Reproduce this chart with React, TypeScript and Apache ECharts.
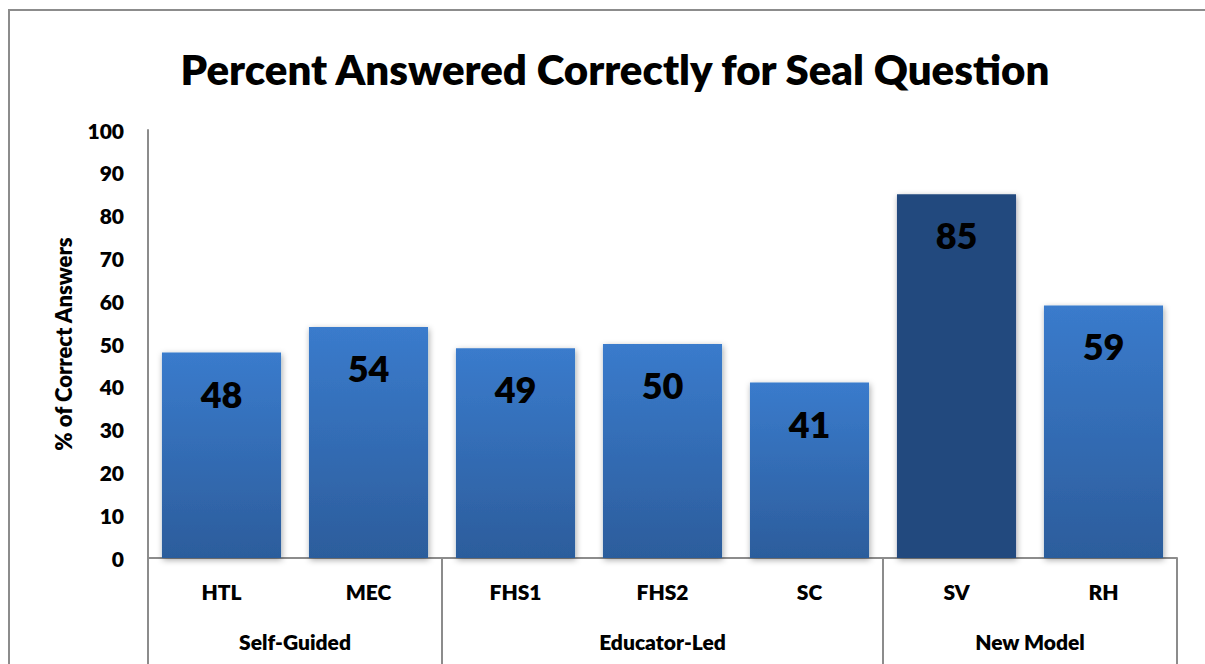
import React, { useEffect, useRef } from "react";
import * as echarts from "echarts";

const categories = ["HTL", "MEC", "FHS1", "FHS2", "SC", "SV", "RH"];
const values = [48, 54, 49, 50, 41, 85, 59];
const groupNames = ["Self-Guided", "Educator-Led", "New Model"];
const groupSizes = [2, 3, 2];
const highlightIndex = 5;
const yTicks = { min: 0, max: 100, interval: 10 };

const FONT = "Lato, 'Open Sans', sans-serif";
const W = 800;

export default function App() {
  const ref = useRef<HTMLDivElement>(null);
  useEffect(() => {
    document.body.style.margin = "0";
    const chart = echarts.init(ref.current!, null, { renderer: "svg" });
    const normal = new echarts.graphic.LinearGradient(0, 0, 0, 1, [
      { offset: 0, color: "#3A7BCC" },
      { offset: 1, color: "#2C5D9C" },
    ]);
    const option: any = {
      animation: false,
      backgroundColor: "#ffffff",
      title: {
        text: "Percent Answered Correctly for Seal Question",
        left: 610,
        textAlign: "center",
        top: 43,
        textStyle: { fontFamily: FONT, fontSize: 42, fontWeight: W, color: "#000" },
      },
      grid: { left: 148, right: 28, top: 130, bottom: 106, containLabel: false },
      xAxis: {
        type: "category",
        data: categories,
        axisLine: { show: true, lineStyle: { color: "#8c8c8c", width: 2 } },
        axisTick: { show: false },
        axisLabel: {
          fontFamily: FONT,
          fontSize: 21,
          fontWeight: W,
          color: "#000",
          margin: 23,
        },
      },
      yAxis: {
        type: "value",
        min: yTicks.min,
        max: yTicks.max,
        interval: yTicks.interval,
        name: "% of Correct Answers",
        nameLocation: "middle",
        nameGap: 74,
        nameTextStyle: { fontFamily: FONT, fontSize: 22, fontWeight: W, color: "#000" },
        axisLine: { show: true, lineStyle: { color: "#8c8c8c", width: 2 } },
        axisTick: { show: false },
        splitLine: { show: false },
        axisLabel: { fontFamily: FONT, fontSize: 21, fontWeight: W, color: "#000", margin: 24 },
      },
      series: [
        {
          type: "bar",
          barWidth: "81%",
          data: values.map((v, i) => ({
            value: v,
            itemStyle: {
              color: i === highlightIndex ? "#204A7E" : normal,
              shadowBlur: 6,
              shadowColor: "rgba(0,0,0,0.35)",
              shadowOffsetY: 2,
              shadowOffsetX: 1,
            },
          })),
          label: {
            show: true,
            position: "insideTop",
            distance: 23,
            fontFamily: FONT,
            fontSize: 36,
            fontWeight: W,
            color: "#000",
          },
        },
      ],
    };
    chart.setOption(option);

    const half = (chart.convertToPixel({ xAxisIndex: 0 }, 1) as number) - (chart.convertToPixel({ xAxisIndex: 0 }, 0) as number);
    const axisY = chart.convertToPixel({ yAxisIndex: 0 }, 0) as number;
    const boundaries: number[] = [];
    let idx = 0;
    const graphics: any[] = [
      {
        type: "rect",
        shape: { x: 9, y: 10, width: 1300, height: 800 },
        style: { fill: "none", stroke: "#8c8c8c", lineWidth: 2 },
        silent: true,
      },
    ];
    const leftOf = (i: number) => (chart.convertToPixel({ xAxisIndex: 0 }, i) as number) - half / 2;
    boundaries.push(leftOf(0));
    groupSizes.forEach((size, g) => {
      const start = leftOf(idx);
      idx += size;
      const end = leftOf(idx - 1) + half;
      boundaries.push(end);
      graphics.push({
        type: "text",
        x: (start + end) / 2,
        y: axisY + 83,
        style: {
          text: groupNames[g],
          fontFamily: FONT,
          fontSize: 21,
          fontWeight: W,
          fill: "#000",
          align: "center",
          verticalAlign: "middle",
        },
      });
    });
    boundaries.forEach((bx) => {
      graphics.push({
        type: "line",
        shape: { x1: bx, y1: axisY, x2: bx, y2: 664 },
        style: { stroke: "#8c8c8c", lineWidth: 2 },
        silent: true,
      });
    });
    chart.setOption({ graphic: graphics });
    return () => chart.dispose();
  }, []);
  return <div ref={ref} style={{ width: 1205, height: 664 }} />;
}
